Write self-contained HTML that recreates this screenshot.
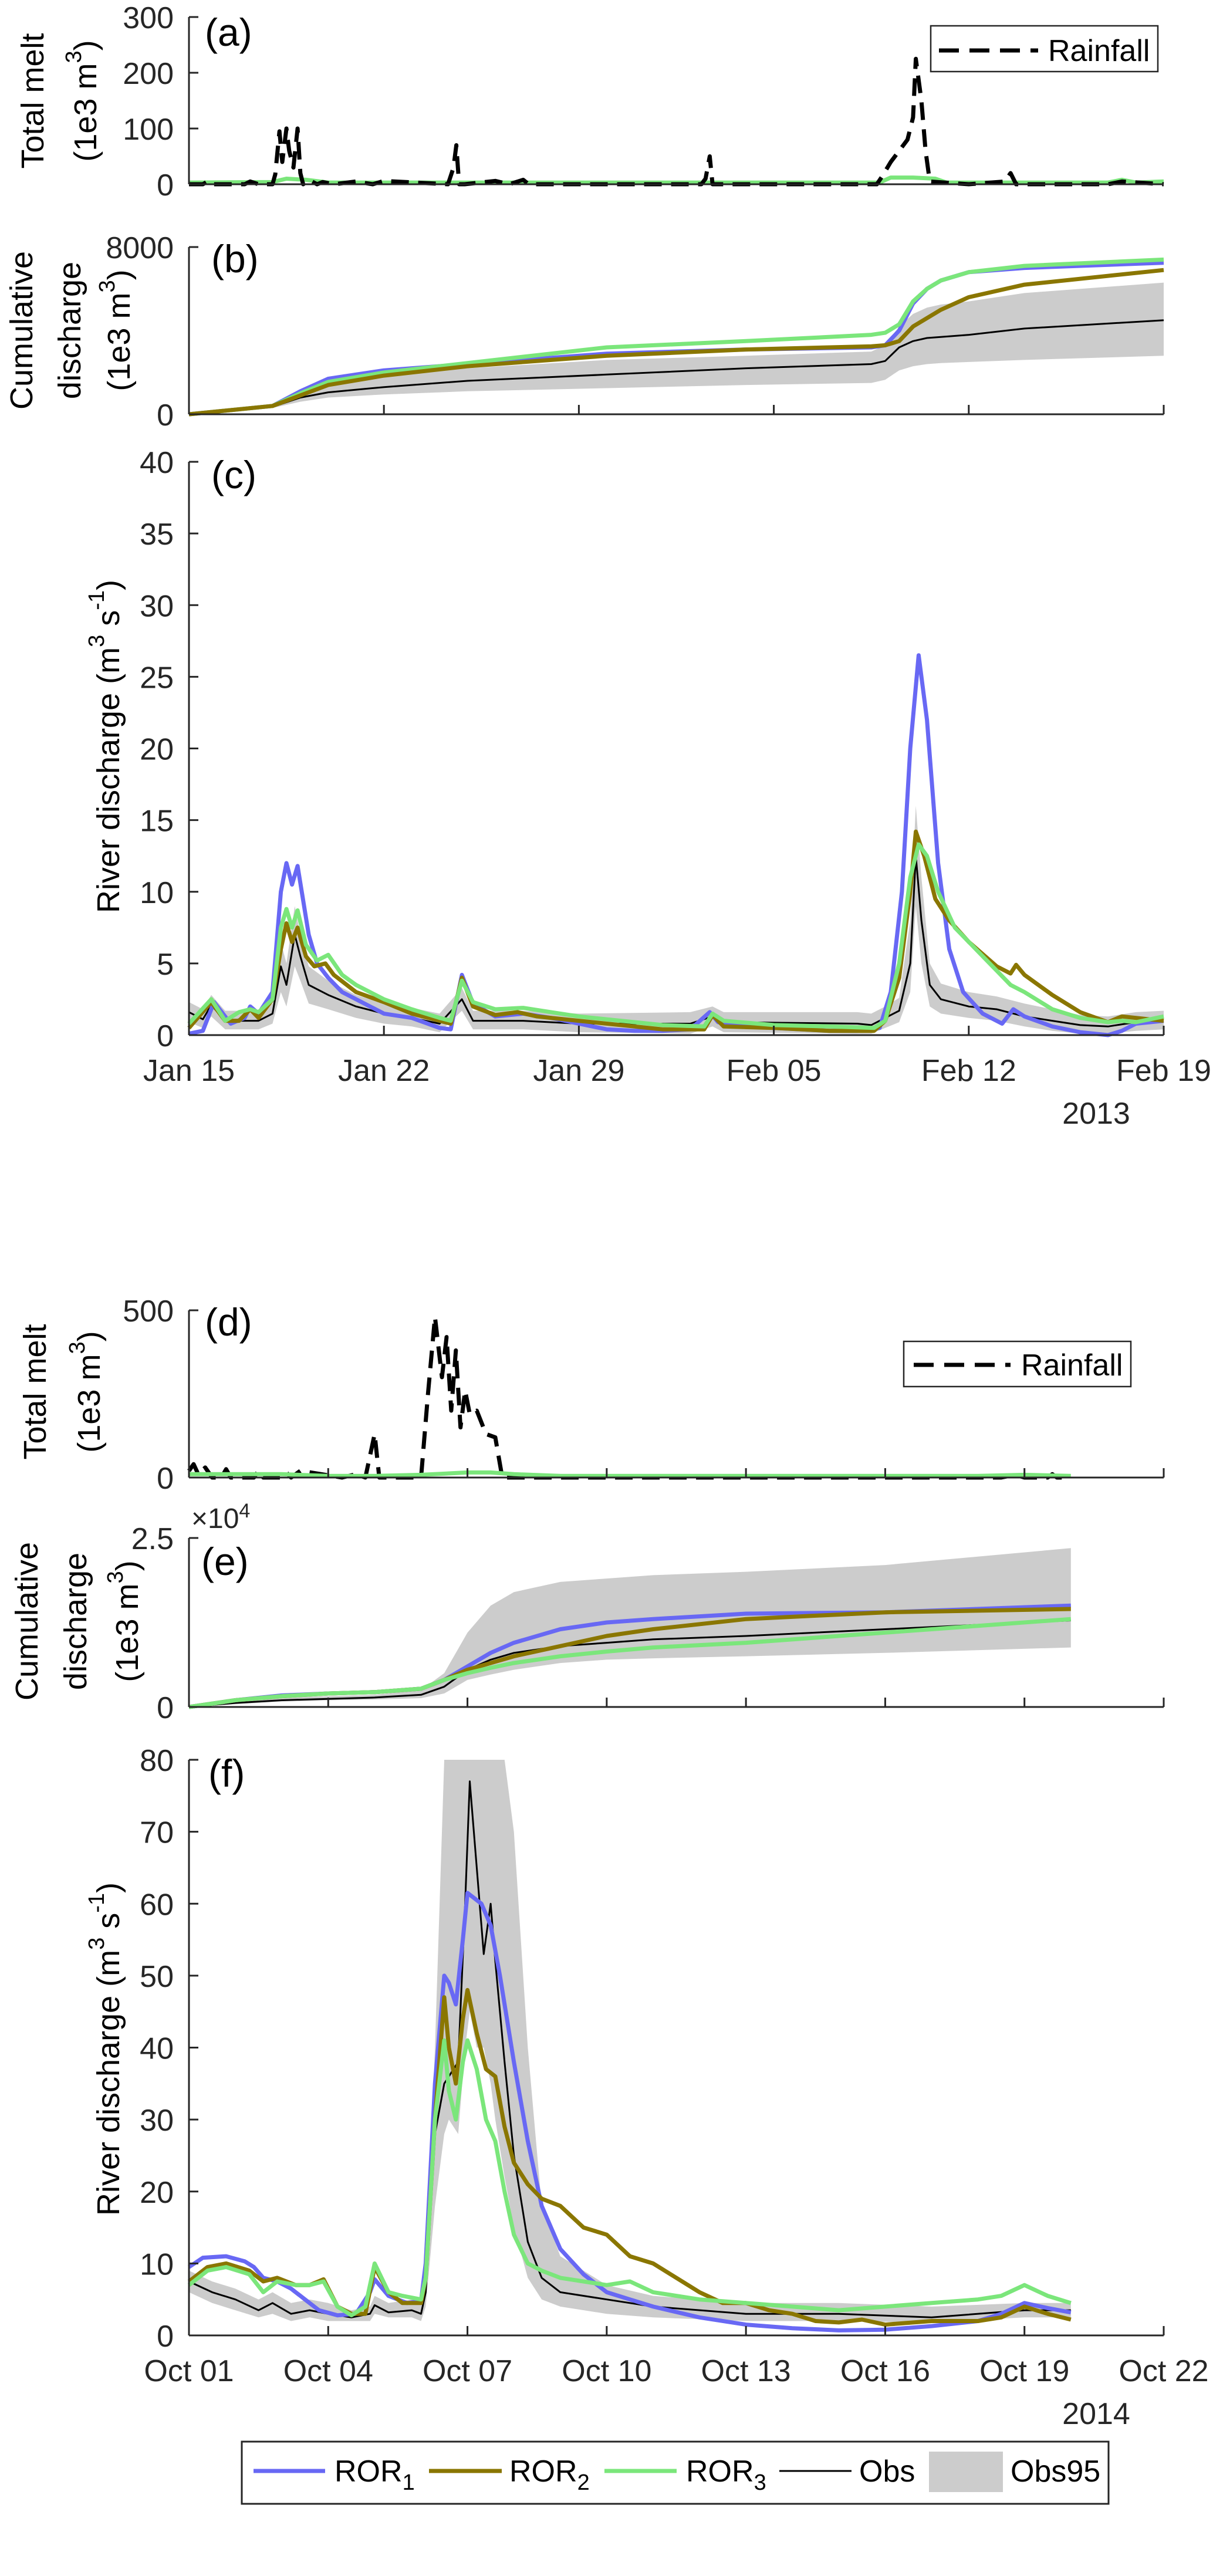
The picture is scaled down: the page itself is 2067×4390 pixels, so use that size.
<!DOCTYPE html>
<html><head><meta charset="utf-8">
<style>
html,body{margin:0;padding:0;background:#fff;}
svg{display:block;font-family:"Liberation Sans",Arial,sans-serif;}
</style></head>
<body>
<svg id="chart" xmlns="http://www.w3.org/2000/svg" width="2067" height="4390" viewBox="0 0 2067 4390">
<rect x="0" y="0" width="2067" height="4390" fill="#fff"/>
</svg>
<script>
// ===== Data: 2013 event (days since Jan 15) =====
const dateLabels2013 = ["Jan 15","Jan 22","Jan 29","Feb 05","Feb 12","Feb 19"];
const dateTicks2013 = [0,7,14,21,28,35];
const dateLabels2014 = ["Oct 01","Oct 04","Oct 07","Oct 10","Oct 13","Oct 16","Oct 19","Oct 22"];
const dateTicks2014 = [0,3,6,9,12,15,18,21];

// Panel a: rainfall & melt
const rainA_t = [0,0.5,0.7,0.9,1.5,2.0,2.2,2.5,3.0,3.1,3.25,3.35,3.5,3.6,3.75,3.9,4.0,4.1,4.3,4.6,4.8,5.2,6,6.6,7,9.3,9.5,9.6,9.7,9.9,11,11.5,12,12.2,13,18.4,18.55,18.7,18.8,24.7,24.9,25.2,25.5,25.8,26.0,26.1,26.3,26.45,26.6,28,29.3,29.5,29.7,33,33.5,35];
const rainA_v = [0,0,6,0,0,0,5,0,0,18,95,40,100,60,30,100,20,0,8,0,4,0,5,0,6,0,30,70,0,0,6,0,8,0,0,0,10,50,0,0,15,40,60,80,120,225,150,60,5,0,5,20,0,0,5,0];
const meltA_t = [0,3,3.5,4.2,5,10,20,24.8,25.2,26,26.8,27.2,33,33.5,34,35];
const meltA_v = [3,4,10,8,3,3,3,3,12,12,10,3,3,8,3,5];

// Panel b: cumulative discharge (1e3 m3)
const cumB_t = [0,3,4,5,7,10,15,20,24.5,25,25.5,26,26.5,27,28,30,35];
const cumB_ror1 = [0,400,1100,1700,2100,2400,2900,3100,3200,3300,4000,5300,6000,6400,6800,7000,7250];
const cumB_ror2 = [0,400,900,1400,1850,2300,2800,3100,3250,3300,3500,4200,4600,5000,5600,6200,6900];
const cumB_ror3 = [0,400,1000,1550,2000,2450,3200,3500,3800,3900,4300,5400,6000,6400,6800,7100,7400];
const cumB_obs = [0,350,800,1050,1300,1600,1900,2200,2400,2550,3200,3500,3650,3700,3800,4100,4500];
const cumB_hi = [0,400,900,1400,1900,2200,2600,2800,3000,3300,4200,4800,5100,5250,5400,5800,6300];
const cumB_lo = [0,300,600,800,950,1100,1250,1400,1500,1650,2100,2300,2400,2450,2500,2600,2800];

// Panel c: river discharge (m3/s)
const qC1_t = [0,0.5,0.9,1.5,2,2.2,2.5,3,3.3,3.5,3.7,3.9,4.3,4.6,5,5.5,6,7,8,9,9.4,9.8,10.2,11,12,13,14,15,16,17,18,18.7,19,20,21,22,23,24,24.8,25.2,25.6,25.9,26.2,26.5,26.9,27.3,27.8,28.5,29.2,29.6,30,31,32,33,33.5,34,35];
const qC1_v = [0.1,0.3,2.3,0.8,1.2,2.0,1.5,3,10,12,10.5,11.8,7,5,4,3,2.5,1.5,1.2,0.5,0.4,4.2,2.2,1.3,1.5,1.2,0.8,0.4,0.3,0.3,0.4,1.6,0.9,0.6,0.5,0.4,0.3,0.3,0.5,3,10,20,26.5,22,12,6,3,1.5,0.8,1.8,1.3,0.6,0.2,0,0.3,0.8,1];
const qC2_t = [0,0.8,1.3,1.8,2.2,2.5,3,3.3,3.5,3.7,3.9,4.2,4.5,4.9,5.2,6,7,8,9,9.4,9.8,10.2,11,11.8,12.5,14,16,17,18.5,18.8,19.2,21,23,24.6,25,25.5,25.9,26.1,26.4,26.8,27.3,28,29,29.5,29.7,30,31,32,33,33.5,34,35];
const qC2_v = [0.5,2.3,1.0,1.0,1.8,1.2,2.5,6,7.8,6.5,7.5,5.5,4.8,5.0,4.2,3,2.3,1.5,1.0,0.8,4.0,2,1.4,1.6,1.3,1.0,0.6,0.4,0.4,1.4,0.6,0.5,0.3,0.3,1,4,10,14.2,12.5,9.5,8,6.5,4.8,4.3,4.9,4.2,2.8,1.6,0.9,1.3,1.2,1.0];
const qC3_t = [0,0.8,1.3,1.8,2.2,2.5,3,3.3,3.5,3.7,3.9,4.2,4.6,5,5.5,6,7,8,9,9.4,9.8,10.2,11,12,13,14,16,17,18.5,18.8,19.2,21,23,24.6,25,25.5,25.9,26.2,26.5,26.9,27.5,28,29,29.5,30,31,32,33,33.5,34,35];
const qC3_v = [0.8,2.5,1.0,1.6,1.8,1.6,2.5,7.5,8.8,7.5,8.7,6.3,5.2,5.6,4.2,3.5,2.5,1.8,1.2,1.0,3.8,2.3,1.8,1.9,1.6,1.3,0.9,0.7,0.6,1.5,1.0,0.7,0.6,0.5,1,5,11,13.3,12.5,10,7.5,6.5,4.5,3.5,3,1.8,1.2,0.9,1.0,0.9,1.3];
const qCo_t = [0,0.5,0.8,1.3,2,2.5,3,3.3,3.5,3.8,4.0,4.3,5,6,7,8,9,9.8,10.2,12,14,18,18.8,19.2,24,24.5,25,25.5,25.9,26.1,26.3,26.6,27,28,29,30,31,32,33,34,35];
const qCo_v = [1.6,1.1,2.1,1.0,1.0,1.0,1.5,4.8,3.5,7.0,5.5,3.5,2.8,2.0,1.5,1.2,0.8,2.5,1.0,1.0,0.8,0.8,1.3,0.9,0.8,0.7,1.2,1.7,5,12.5,8,3.5,2.5,2,1.8,1.3,1,0.7,0.6,0.9,1];
const qCo_hi = [2.3,1.8,2.8,1.7,1.7,1.7,2.2,6.5,5,9,7,4.8,3.8,2.8,2.2,1.9,1.5,3.3,1.7,1.7,1.5,1.6,2.0,1.6,1.6,1.5,2,2.6,8,16,11,5,3.6,3,2.7,2.2,1.8,1.4,1.3,1.6,1.7];
const qCo_lo = [0.9,0.5,1.3,0.4,0.4,0.4,0.8,3,2,4.8,3.8,2.2,1.8,1.2,0.8,0.6,0.2,1.7,0.4,0.4,0.2,0.1,0.6,0.2,0.1,0.1,0.5,0.9,3,9,5,2,1.5,1.2,1,0.6,0.3,0.1,0.1,0.3,0.4];

// Panel d: rainfall & melt 2014 (days since Oct 01)
const rainD_t = [0,0.1,0.2,0.35,0.5,0.7,0.8,0.9,1.2,1.4,1.5,1.6,2.0,2.1,2.2,2.4,3.3,3.6,3.8,4.0,4.1,5.0,5.15,5.3,5.45,5.55,5.65,5.75,5.85,5.95,6.05,6.2,6.4,6.6,6.75,8,12,17.5,17.8,18,18.5,18.6,18.7,19];
const rainD_v = [20,40,10,30,0,0,25,0,0,0,20,0,0,15,0,20,0,10,0,130,0,0,250,480,300,420,200,380,150,260,190,200,130,120,0,0,0,0,8,0,0,10,0,0];
const meltD_t = [0,2,3,4,5,6,6.5,7,8,10,14,17,18,19];
const meltD_v = [10,10,5,5,8,15,15,10,5,5,5,5,8,5];

// Panel e: cumulative discharge (x1e4 1e3 m3)
const cumE_t = [0,1,2,3,4,5,5.5,6,6.5,7,8,9,10,12,15,19];
const cumE_ror1 = [0,0.1,0.17,0.2,0.22,0.27,0.4,0.6,0.8,0.95,1.15,1.25,1.3,1.38,1.4,1.5];
const cumE_ror2 = [0,0.1,0.16,0.2,0.22,0.27,0.4,0.55,0.65,0.75,0.9,1.05,1.15,1.3,1.4,1.45];
const cumE_ror3 = [0,0.1,0.16,0.2,0.22,0.27,0.4,0.5,0.58,0.65,0.75,0.82,0.88,0.95,1.1,1.3];
const cumE_obs = [0,0.06,0.1,0.12,0.14,0.18,0.3,0.55,0.7,0.8,0.9,0.95,1.0,1.05,1.15,1.28];
const cumE_hi = [0,0.08,0.14,0.16,0.18,0.25,0.5,1.1,1.5,1.7,1.85,1.9,1.95,2.0,2.1,2.35];
const cumE_lo = [0,0.04,0.08,0.1,0.11,0.13,0.2,0.4,0.48,0.55,0.65,0.7,0.72,0.75,0.8,0.88];

// Panel f: river discharge 2014
const qF1_t = [0,0.3,0.8,1.2,1.4,1.6,1.9,2.2,2.5,2.8,3.2,3.6,3.9,4.0,4.3,4.7,5.0,5.1,5.3,5.5,5.6,5.75,5.9,6.0,6.3,6.5,6.7,7.0,7.3,7.6,8.0,8.5,9,9.5,10,11,12,13,14,15,16,17,17.5,18,18.5,19];
const qF1_v = [9.5,10.8,11,10.3,9.5,8,7.5,6.5,5,3.5,2.8,3,6,7.8,5.5,4.5,4.8,10,35,50,49,46,55,61.5,60,57,50,38,27,18,12,8.5,6,5,4,2.5,1.5,1,0.7,0.8,1.3,2,3,4.5,3.8,3.2];
const qF2_t = [0,0.4,0.8,1.3,1.6,1.9,2.3,2.6,2.9,3.2,3.5,3.8,4.0,4.3,4.6,5.0,5.1,5.3,5.5,5.6,5.75,5.9,6.0,6.2,6.4,6.6,6.8,7.0,7.3,7.6,8.0,8.5,9.0,9.5,10,10.5,11,11.5,12,12.5,13,13.5,14,14.5,15,16,17,17.5,18,18.5,19];
const qF2_v = [7.5,9.5,10,9,7.5,8,7,7,7.8,4,3,3,9.5,6,4.5,4.5,8,30,47,40,35,44,48,42,37,36,29,24,21,19,18,15,14,11,10,8,6,4.5,4.5,3.5,3,2,1.8,2.2,1.5,2,2,2.5,4,3,2.2];
const qF3_t = [0,0.4,0.8,1.3,1.6,1.9,2.3,2.6,2.9,3.2,3.5,3.8,4.0,4.3,4.6,5.0,5.1,5.3,5.5,5.6,5.75,5.9,6.0,6.2,6.4,6.6,6.8,7.0,7.3,7.6,8.0,8.5,9,9.5,10,11,12,13,14,15,16,17,17.5,18,18.5,19];
const qF3_v = [7,9,9.5,8.5,6,7.5,7,7,7.5,4,2.8,4,10,6,5.5,5,8,30,41,34,30,38,41,37,30,27,20,14,10,9,8,7.5,7,7.5,6,5,4.5,4,3.5,4,4.5,5,5.5,7,5.5,4.5];
const qFo_t = [0,0.5,1,1.5,1.8,2.2,2.6,3,3.5,3.9,4.0,4.3,4.8,5.0,5.1,5.3,5.5,5.6,5.8,5.95,6.05,6.2,6.35,6.5,6.6,6.8,7.0,7.3,7.6,8,9,10,12,14,16,18,19];
const qFo_v = [7.5,6,5,3.5,4.5,3,3.5,3,2.5,3,4.2,3.2,3.5,3,6,28,35,36,38,60,77,65,53,60,52,38,25,13,8,6,5,4,3,3,2.5,3.5,3.5];
const qFo_hi = [9,7.5,6.5,5,6,4.5,5,4.5,3.5,4,5.5,4.5,5,4.5,8,40,80,80,80,80,80,80,80,80,80,80,70,40,18,11,7,5.5,4.5,4.5,4,4.5,4.5];
const qFo_lo = [6,4.5,3.5,2.5,3,2,2.5,2,2,2,3,2.5,2.5,2,4,18,28,30,28,40,45,40,40,35,30,22,15,8,5,4,3,2.5,2,2,1.8,2.5,2.5];

// ===== Rendering =====
const NS = "http://www.w3.org/2000/svg";
const svg = document.getElementById('chart');
const C1 = "#6868f4", C2 = "#8a7600", C3 = "#7be67b", CB = "#cccccc";
const X0 = 322, X1 = 1983;
const LW = 7, OW = 3;

function mk(tag, attrs, parent) {
  const e = document.createElementNS(NS, tag);
  for (const k in attrs) e.setAttribute(k, attrs[k]);
  (parent || svg).appendChild(e);
  return e;
}
function makeX(dmax) { return d => X0 + (X1 - X0) * d / dmax; }
function makeY(top, bot, vmax) { return v => bot - (bot - top) * Math.min(v, vmax) / vmax; }

function line(ts, vs, sx, sy, color, w, name, dash) {
  const p = ts.map((t, i) => (i ? "L" : "M") + sx(t).toFixed(1) + "," + sy(vs[i]).toFixed(1)).join("");
  const el = mk("path", {d: p, fill: "none", stroke: color, "stroke-width": w, "stroke-linejoin": "round"});
  if (dash) el.setAttribute("stroke-dasharray", dash);
  
  
  return el;
}
function band(ts, hi, lo, sx, sy, name) {
  let p = ts.map((t, i) => (i ? "L" : "M") + sx(t).toFixed(1) + "," + sy(hi[i]).toFixed(1)).join("");
  for (let i = ts.length - 1; i >= 0; i--) p += "L" + sx(ts[i]).toFixed(1) + "," + sy(lo[i]).toFixed(1);
  const el = mk("path", {d: p + "Z", fill: CB, stroke: "none"});
  
  
}
function axes(top, bot, sx, sy, yticks, xticks, name) {
  const g = mk("g", {});
  
  
  mk("line", {x1: X0, y1: top, x2: X0, y2: bot, stroke: "#262626", "stroke-width": 3}, g);
  mk("line", {x1: X0, y1: bot, x2: X1, y2: bot, stroke: "#262626", "stroke-width": 3}, g);
  yticks.forEach(v => {
    const y = sy(v);
    mk("line", {x1: X0, y1: y, x2: X0 + 16, y2: y, stroke: "#262626", "stroke-width": 3}, g);
    const t = mk("text", {x: 296, y: y + 19, "text-anchor": "end", "font-size": 52, fill: "#262626"}, g);
    t.textContent = String(v);
    
    
  });
  xticks.forEach(d => {
    mk("line", {x1: sx(d), y1: bot, x2: sx(d), y2: bot - 16, stroke: "#262626", "stroke-width": 3}, g);
  });
}
function xlabels(sx, ticks, labels, y) {
  ticks.forEach((d, i) => {
    const t = mk("text", {x: sx(d), y: y, "text-anchor": "middle", "font-size": 52, fill: "#262626"});
    t.textContent = labels[i];
    
    
  });
}
function plabel(txt, x, y) {
  const t = mk("text", {x: x, y: y, "font-size": 66, fill: "#000"});
  t.textContent = txt;
  
  
}
function ylab(x, yc, parts, name) {
  const t = mk("text", {x: 0, y: 0, "text-anchor": "middle", "dominant-baseline": "central", "font-size": 54, fill: "#000",
    transform: "translate(" + x + "," + yc + ") rotate(-90)"});
  
  
  parts.forEach(p => {
    const s = mk("tspan", {}, t);
    if (p[1] === "sup") { s.setAttribute("font-size", 38); s.setAttribute("dy", -20); }
    if (p[1] === "back") { s.setAttribute("dy", 20); }
    s.textContent = p[0];
  });
}
function rainLegend(x, y, w, h, lx1, lx2, ly, tx) {
  const g = mk("g", {});
  
  
  mk("rect", {x: x, y: y, width: w, height: h, fill: "#fff", stroke: "#262626", "stroke-width": 2.5}, g);
  mk("line", {x1: lx1, y1: ly, x2: lx2, y2: ly, stroke: "#000", "stroke-width": 7, "stroke-dasharray": "34,18"}, g);
  const t = mk("text", {x: tx, y: ly + 18, "font-size": 52, fill: "#000"}, g);
  t.textContent = "Rainfall";
}

// ---- Panel a ----
{
  const sx = makeX(35), sy = makeY(29, 314, 300);
  line(meltA_t, meltA_v, sx, sy, C3, LW, "melt-line-a");
  line(rainA_t, rainA_v, sx, sy, "#000", 7, "rainfall-line-a", "30,16");
  axes(29, 314, sx, sy, [0,100,200,300], [], "axes-a");
  plabel("(a)", 349, 78);
  rainLegend(1586, 44, 387, 78, 1600, 1769, 86, 1786);
  ylab(56, 172, [["Total melt"]], "y-axis-title-a1");
  ylab(146, 172, [["(1e3 m"],["3","sup"],[")","back"]], "y-axis-title-a2");
}
// ---- Panel b ----
{
  const sx = makeX(35), sy = makeY(421, 706, 8000);
  band(cumB_t, cumB_hi, cumB_lo, sx, sy, "obs95-band-b");
  line(cumB_t, cumB_obs, sx, sy, "#000", OW, "obs-line-b");
  line(cumB_t, cumB_ror1, sx, sy, C1, LW, "ror1-line-b");
  line(cumB_t, cumB_ror3, sx, sy, C3, LW, "ror3-line-b");
  line(cumB_t, cumB_ror2, sx, sy, C2, LW, "ror2-line-b");
  axes(421, 706, sx, sy, [0,8000], dateTicks2013, "axes-b");
  plabel("(b)", 360, 464);
  ylab(37, 563, [["Cumulative"]], "y-axis-title-b1");
  ylab(119, 563, [["discharge"]], "y-axis-title-b2");
  ylab(203, 563, [["(1e3 m"],["3","sup"],[")","back"]], "y-axis-title-b3");
}
// ---- Panel c ----
{
  const sx = makeX(35), sy = makeY(787, 1764, 40);
  band(qCo_t, qCo_hi, qCo_lo, sx, sy, "obs95-band-c");
  line(qCo_t, qCo_v, sx, sy, "#000", OW, "obs-line-c");
  line(qC1_t, qC1_v, sx, sy, C1, LW, "ror1-line-c");
  line(qC2_t, qC2_v, sx, sy, C2, LW, "ror2-line-c");
  line(qC3_t, qC3_v, sx, sy, C3, LW, "ror3-line-c");
  axes(787, 1764, sx, sy, [0,5,10,15,20,25,30,35,40], dateTicks2013, "axes-c");
  xlabels(sx, dateTicks2013, dateLabels2013, 1842);
  const yr = mk("text", {x: 1868, y: 1915, "text-anchor": "middle", "font-size": 52, fill: "#262626"});
  yr.textContent = "2013";
  
  
  plabel("(c)", 360, 832);
  ylab(185, 1272, [["River discharge (m"],["3","sup"],[" s","back"],["-1","sup"],[")","back"]], "y-axis-title-c");
}
// ---- Panel d ----
{
  const sx = makeX(21), sy = makeY(2233, 2518, 500);
  line(rainD_t, rainD_v, sx, sy, "#000", 7, "rainfall-line-d", "30,16");
  line(meltD_t, meltD_v, sx, sy, C3, LW, "melt-line-d");
  axes(2233, 2518, sx, sy, [0,500], dateTicks2014, "axes-d");
  plabel("(d)", 349, 2276);
  rainLegend(1540, 2286, 387, 77, 1557, 1722, 2326, 1740);
  ylab(60, 2372, [["Total melt"]], "y-axis-title-d1");
  ylab(152, 2372, [["(1e3 m"],["3","sup"],[")","back"]], "y-axis-title-d2");
}
// ---- Panel e ----
{
  const sx = makeX(21), sy = makeY(2621, 2909, 2.5);
  band(cumE_t, cumE_hi, cumE_lo, sx, sy, "obs95-band-e");
  line(cumE_t, cumE_obs, sx, sy, "#000", OW, "obs-line-e");
  line(cumE_t, cumE_ror1, sx, sy, C1, LW, "ror1-line-e");
  line(cumE_t, cumE_ror2, sx, sy, C2, LW, "ror2-line-e");
  line(cumE_t, cumE_ror3, sx, sy, C3, LW, "ror3-line-e");
  axes(2621, 2909, sx, sy, [0,2.5], dateTicks2014, "axes-e");
  const ex = mk("text", {x: 326, y: 2604, "font-size": 48, fill: "#262626"});
  
  
  ex.innerHTML = '×10<tspan font-size="34" dy="-18">4</tspan>';
  plabel("(e)", 343, 2684);
  ylab(46, 2763, [["Cumulative"]], "y-axis-title-e1");
  ylab(129, 2763, [["discharge"]], "y-axis-title-e2");
  ylab(217, 2763, [["(1e3 m"],["3","sup"],[")","back"]], "y-axis-title-e3");
}
// ---- Panel f ----
{
  const sx = makeX(21), sy = makeY(2999, 3980, 80);
  band(qFo_t, qFo_hi, qFo_lo, sx, sy, "obs95-band-f");
  line(qFo_t, qFo_v, sx, sy, "#000", OW, "obs-line-f");
  line(qF1_t, qF1_v, sx, sy, C1, LW, "ror1-line-f");
  line(qF2_t, qF2_v, sx, sy, C2, LW, "ror2-line-f");
  line(qF3_t, qF3_v, sx, sy, C3, LW, "ror3-line-f");
  axes(2999, 3980, sx, sy, [0,10,20,30,40,50,60,70,80], dateTicks2014, "axes-f");
  xlabels(sx, dateTicks2014, dateLabels2014, 4058);
  const yr = mk("text", {x: 1868, y: 4131, "text-anchor": "middle", "font-size": 52, fill: "#262626"});
  yr.textContent = "2014";
  
  
  plabel("(f)", 355, 3045);
  ylab(185, 3492, [["River discharge (m"],["3","sup"],[" s","back"],["-1","sup"],[")","back"]], "y-axis-title-f");
}
// ---- Bottom legend ----
{
  const g = mk("g", {});
  
  
  mk("rect", {x: 412, y: 4161, width: 1477, height: 106, fill: "#fff", stroke: "#262626", "stroke-width": 3}, g);
  const items = [[432,554,C1,LW,570,"ROR","1"],[731,855,C2,LW,868,"ROR","2"],[1030,1153,C3,LW,1169,"ROR","3"],[1328,1451,"#000",OW,1464,"Obs",""]];
  items.forEach(it => {
    mk("line", {x1: it[0], y1: 4211, x2: it[1], y2: 4211, stroke: it[2], "stroke-width": it[3]}, g);
    const t = mk("text", {x: it[4], y: 4229, "font-size": 52, fill: "#000"}, g);
    t.innerHTML = it[5] + (it[6] ? '<tspan font-size="38" dy="14">' + it[6] + '</tspan>' : '');
  });
  mk("rect", {x: 1583, y: 4178, width: 126, height: 69, fill: CB}, g);
  const t = mk("text", {x: 1722, y: 4229, "font-size": 52, fill: "#000"}, g);
  t.textContent = "Obs95";
}
</script>
</body></html>
